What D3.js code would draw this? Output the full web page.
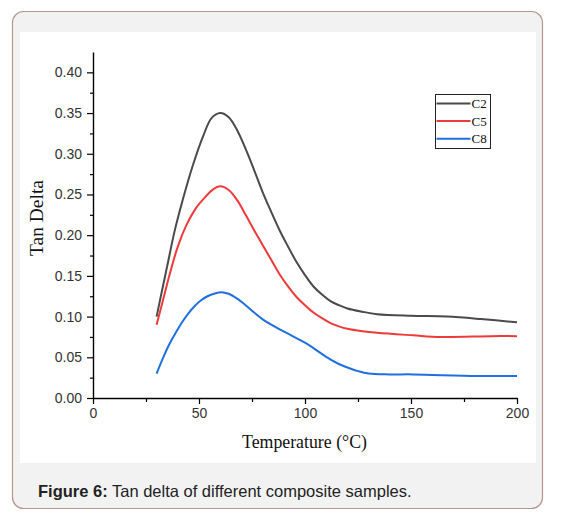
<!DOCTYPE html>
<html>
<head>
<meta charset="utf-8">
<script src="https://cdn.jsdelivr.net/npm/d3@7"></script>
<style>
  html, body { margin: 0; padding: 0; background: #fff; }
  svg { display: block; }
</style>
</head>
<body>
<div id="chart"></div>
<script>
// --- data (temperature in °C, tan delta)
const seriesNames = ['C2', 'C5', 'C8'];
const seriesColors = ['#4a4a4a', '#f03a3a', '#1f6fe0'];

const c2Temp = [30, 32, 35, 38.5, 42.5, 47, 52, 56, 60, 64, 68, 72, 76, 80, 84, 88, 92, 96, 100, 104, 108, 112, 116, 120, 127, 134, 150, 167, 183, 200];
const c2Tan  = [0.100, 0.125, 0.162, 0.205, 0.245, 0.285, 0.322, 0.344, 0.350, 0.345, 0.329, 0.306, 0.280, 0.253, 0.229, 0.206, 0.186, 0.167, 0.151, 0.137, 0.127, 0.119, 0.114, 0.110, 0.106, 0.103, 0.101, 0.100, 0.097, 0.093];

const c5Temp = [30, 33, 36.5, 40, 44, 48.5, 53, 56.5, 60, 64, 68, 72, 76, 80, 84, 88, 92, 96, 100, 104, 108, 112, 116, 120, 127, 134, 151, 164, 188, 200];
const c5Tan  = [0.090, 0.120, 0.155, 0.186, 0.212, 0.233, 0.247, 0.256, 0.260, 0.2555, 0.243, 0.225, 0.206, 0.188, 0.170, 0.152, 0.137, 0.124, 0.114, 0.105, 0.098, 0.092, 0.088, 0.085, 0.082, 0.080, 0.077, 0.075, 0.076, 0.076];

const c8Temp = [30, 33, 36, 39, 42, 45, 48, 51, 54, 57, 60.5, 64, 68, 72, 76, 80.4, 89, 100, 105, 110, 115, 120, 125, 130, 140, 151, 181, 200];
const c8Tan  = [0.030, 0.049, 0.066, 0.080, 0.093, 0.104, 0.113, 0.120, 0.125, 0.128, 0.130, 0.128, 0.122, 0.114, 0.105, 0.096, 0.083, 0.068, 0.0595, 0.0505, 0.043, 0.0375, 0.033, 0.030, 0.029, 0.029, 0.027, 0.027];

const xTicks = [0, 50, 100, 150, 200];
const yTicks = [0, 0.05, 0.10, 0.15, 0.20, 0.25, 0.30, 0.35, 0.40];

const captionBold = 'Figure 6:';
const captionText = ' Tan delta of different composite samples.';

// --- dimensions
const width = 562;
const height = 523;
const plot = { left: 93, right: 517, top: 52, bottom: 398 };

const svg = d3.select('#chart')
  .append('svg')
  .attr('width', width)
  .attr('height', height);

// --- frame around figure
svg.append('rect')
  .attr('x', 12.5).attr('y', 11.5)
  .attr('width', 530).attr('height', 497)
  .attr('rx', 11)
  .attr('fill', '#f2f2f2')
  .attr('stroke', '#b8968c')
  .attr('stroke-width', 1.2);

svg.append('rect')
  .attr('x', 20).attr('y', 32)
  .attr('width', 516).attr('height', 431)
  .attr('fill', '#fff');

// --- scales
const x = d3.scaleLinear().domain([0, 200]).range([plot.left, plot.right]);
const y = d3.scaleLinear().domain([0, 0.425]).range([plot.bottom, plot.top]);

// --- axes (major + minor ticks)
const xAxis = svg.append('g')
  .attr('transform', `translate(0,${plot.bottom})`);
xAxis.append('g')
  .call(d3.axisBottom(x).tickValues(d3.range(25, 200, 50)).tickSize(4).tickFormat(''))
  .call(g => g.select('.domain').remove());
xAxis.append('g')
  .call(d3.axisBottom(x).tickValues(xTicks).tickSize(6).tickSizeOuter(0).tickPadding(4).tickFormat(d3.format('d')))
  .call(g => g.select('.domain').attr('stroke-width', 1.4));

const yAxis = svg.append('g')
  .attr('transform', `translate(${plot.left},0)`);
yAxis.append('g')
  .call(d3.axisLeft(y).tickValues(d3.range(0.025, 0.42, 0.05)).tickSize(3).tickFormat(''))
  .call(g => g.select('.domain').remove());
yAxis.append('g')
  .call(d3.axisLeft(y).tickValues(yTicks).tickSize(6).tickSizeOuter(0).tickPadding(5).tickFormat(d3.format('.2f')))
  .call(g => g.select('.domain').attr('stroke-width', 1.4));

svg.selectAll('.tick line').attr('stroke', '#000').attr('stroke-width', 1.2);
svg.selectAll('.tick text')
  .attr('font-family', 'Liberation Sans, Arial, sans-serif')
  .attr('font-size', 14)
  .attr('fill', '#333');

// --- axis titles
svg.append('text')
  .attr('x', 242)
  .attr('y', 448)
  .attr('font-family', 'Liberation Serif, Times New Roman, serif')
  .attr('font-size', 19)
  .attr('textLength', 125)
  .attr('lengthAdjust', 'spacingAndGlyphs')
  .attr('fill', '#111')
  .text('Temperature (°C)');

svg.append('text')
  .attr('transform', 'translate(43,256) rotate(-90)')
  .attr('font-family', 'Liberation Serif, Times New Roman, serif')
  .attr('font-size', 19)
  .attr('textLength', 76)
  .attr('lengthAdjust', 'spacingAndGlyphs')
  .attr('fill', '#111')
  .text('Tan Delta');

// --- lines
const series = [
  { name: seriesNames[0], color: seriesColors[0], values: c2Temp.map((t, i) => [t, c2Tan[i]]) },
  { name: seriesNames[1], color: seriesColors[1], values: c5Temp.map((t, i) => [t, c5Tan[i]]) },
  { name: seriesNames[2], color: seriesColors[2], values: c8Temp.map((t, i) => [t, c8Tan[i]]) }
];

const line = d3.line()
  .x(d => x(d[0]))
  .y(d => y(d[1]))
  .curve(d3.curveCatmullRom.alpha(0.5));

svg.append('g')
  .selectAll('path')
  .data(series)
  .join('path')
    .attr('d', d => line(d.values))
    .attr('fill', 'none')
    .attr('stroke', d => d.color)
    .attr('stroke-width', 2)
    .attr('stroke-linejoin', 'round');

// --- legend
const legend = svg.append('g').attr('transform', 'translate(435.5,94.5)');
legend.append('rect')
  .attr('width', 55).attr('height', 54)
  .attr('fill', '#fff')
  .attr('stroke', '#222')
  .attr('stroke-width', 1);

const legendItem = legend.selectAll('.legend-item')
  .data(series)
  .join('g')
    .attr('class', 'legend-item')
    .attr('transform', (d, i) => `translate(0,${9 + i * 17.6})`);

legendItem.append('line')
  .attr('x1', 1).attr('x2', 35)
  .attr('stroke', d => d.color)
  .attr('stroke-width', 2);

legendItem.append('text')
  .attr('x', 36)
  .attr('y', 4.5)
  .attr('font-family', 'Liberation Serif, Times New Roman, serif')
  .attr('font-size', 13)
  .attr('fill', '#111')
  .text(d => d.name);

// --- caption
const caption = svg.append('text')
  .attr('x', 38)
  .attr('y', 497)
  .attr('font-family', 'Liberation Sans, Arial, sans-serif')
  .attr('font-size', 16.5)
  .attr('fill', '#222');
caption.append('tspan').attr('font-weight', 'bold').text(captionBold);
caption.append('tspan').text(captionText);
</script>
</body>
</html>
